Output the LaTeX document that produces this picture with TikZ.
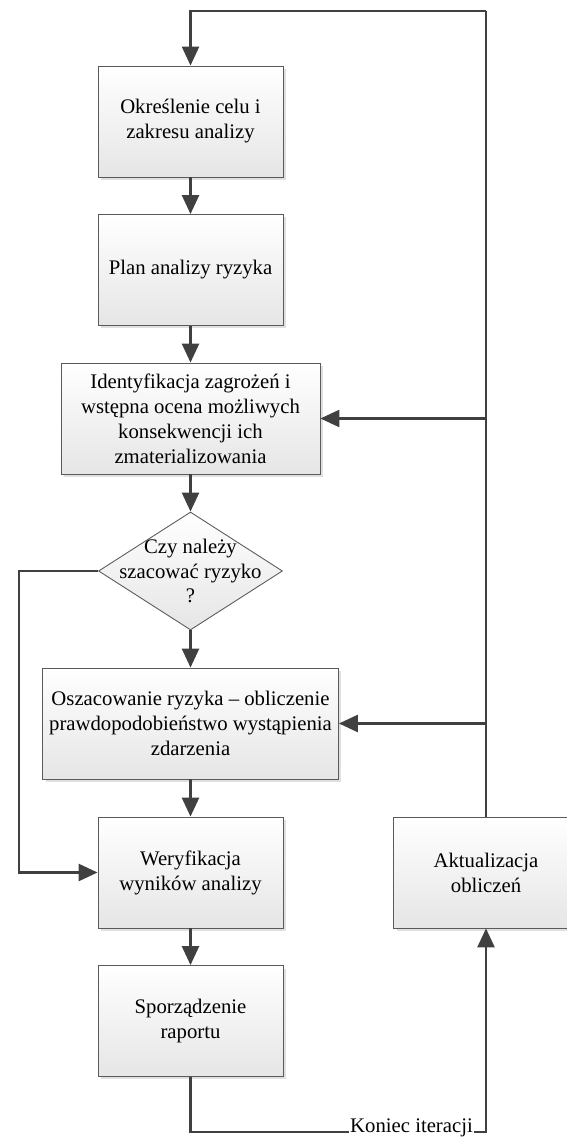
\documentclass[tikz,border=0pt]{standalone}
\usepackage{fontspec}
\setmainfont{Liberation Serif}
\usepackage{tikz}
\usetikzlibrary{shapes.geometric}
\usetikzlibrary{arrows.meta}
\usetikzlibrary{shadows}
\usepackage{xcolor}

\definecolor{linegray}{HTML}{404040}
\definecolor{boxgray}{HTML}{5A5A5A}

\tikzset{
    stage/.style = {rectangle, draw=boxgray, line width=0.5pt,
        top color=white, bottom color=black!10,
        drop shadow={shadow xshift=0.06cm, shadow yshift=-0.06cm, fill=black!12, opacity=1},
        minimum width=3.7cm, minimum height=2.22cm, align=center, inner sep=2pt},
    decision/.style = {diamond, draw=boxgray, line width=0.5pt,
        top color=white, bottom color=black!10,
        minimum width=3.68cm, minimum height=2.36cm, inner sep=0pt},
    flow/.style = {draw=linegray, line width=1.5pt, -{Triangle[length=0.38cm,width=0.34cm]}},
    link/.style = {draw=linegray, line width=1.5pt}
}

\begin{document}
\begin{tikzpicture}[x=0.02cm, y=0.02cm, font=\rmfamily\fontsize{11.8}{14.2}\selectfont]
        \useasboundingbox (0,0) rectangle (566,1141);

        % main column
        \node[stage] (cel) at (190.5,1019.5) {Określenie celu i\\zakresu analizy};
        \node[stage] (plan) at (190.5,871) {Plan analizy ryzyka};
        \node[stage, minimum width=5.18cm] (ident) at (190.5,722.5) {Identyfikacja zagrożeń i\\wstępna ocena możliwych\\konsekwencji ich\\zmaterializowania};
        \node[decision, label={[align=center]center:Czy należy\\szacować ryzyko\\?}] (pyt) at (190.5,570) {};
        \node[stage, minimum width=5.92cm] (osz) at (190.5,417.5) {Oszacowanie ryzyka – obliczenie\\prawdopodobieństwo wystąpienia\\zdarzenia};
        \node[stage] (wer) at (190.5,268.5) {Weryfikacja\\wyników analizy};
        \node[stage] (rap) at (190.5,120) {Sporządzenie\\raportu};

        % return branch
        \node[stage] (akt) at (486,268.5) {Aktualizacja\\obliczeń};
        \node[inner xsep=0.5pt, inner ysep=0pt, anchor=base] (koniec) at (411.5,9) {Koniec iteracji};

        \coordinate (gora) at (486,1130);
        \coordinate (lewo) at (19,570);

        \draw[flow] (cel) -- (plan);
        \draw[flow] (plan) -- (ident);
        \draw[flow] (ident) -- (pyt);
        \draw[flow] (pyt) -- (osz);
        \draw[flow] (osz) -- (wer);
        \draw[flow] (wer) -- (rap);

        \draw[flow] (pyt.west) -- (lewo) |- (wer.west);

        \draw[link] (rap.south) |- (koniec.base west);
        \draw[flow] (koniec.base east) -| (akt.south);

        \draw[link] (akt.north) -- (gora);
        \draw[flow] (gora) -| (cel.north);
        \draw[flow] (akt.north |- ident.east) -- (ident.east);
        \draw[flow] (akt.north |- osz.east) -- (osz.east);

    \end{tikzpicture}
\end{document}
